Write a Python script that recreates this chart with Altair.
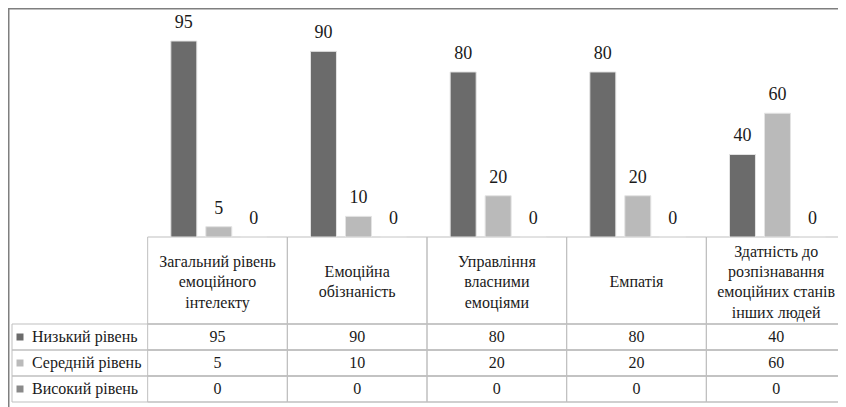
import altair as alt
import pandas as pd

# ---------------- data ----------------
categories = [
    "Загальний рівень емоційного інтелекту",
    "Емоційна обізнаність",
    "Управління власними емоціями",
    "Емпатія",
    "Здатність до розпізнавання емоційних станів інших людей",
]
header_lines = [
    ["Загальний рівень", "емоційного", "інтелекту"],
    ["Емоційна", "обізнаність"],
    ["Управління", "власними", "емоціями"],
    ["Емпатія"],
    ["Здатність до", "розпізнавання", "емоційних станів", "інших людей"],
]
series = ["Низький рівень", "Середній рівень", "Високий рівень"]
low = [95, 90, 80, 80, 40]
mid = [5, 10, 20, 20, 60]
high = [0, 0, 0, 0, 0]
colors = ["#6b6b6b", "#bababa", "#8a8a8a"]

# ---------------- layout ----------------
W, H = 830, 400
X_RANGE = 838        # table runs past the right edge, as in the original
BASE = 229           # bar baseline / header top (px inside view)
HDR_BOTTOM = 316
TABLE_BOTTOM = 394
TABLE_LEFT = 4
HDR_CENTER = 274.3
LINE_H = 20.3
FONT = "Liberation Serif"
GRID = "#bfbfbf"
FRAME = "#7f7f7f"
ROWCOL = " "

values_by_series = [low, mid, high]
long = pd.DataFrame(
    [
        {"cat": c, "series": s, "value": v[i]}
        for s, v in zip(series, values_by_series)
        for i, c in enumerate(categories)
    ]
)
hdr = pd.DataFrame({"cat": categories})
hdr_long = pd.DataFrame(
    [
        {"cat": c, "line": t, "pos": i - (len(lines) - 1) / 2}
        for c, lines in zip(categories, header_lines)
        for i, t in enumerate(lines)
    ]
)
rows = pd.DataFrame({"series": series, "col": [ROWCOL] * len(series)})

xs = alt.Scale(domain=[ROWCOL] + categories, range=[0, X_RANGE], paddingInner=0, paddingOuter=0)
xo = alt.Scale(domain=series, paddingInner=0.257, paddingOuter=0.624, align=0.53)
ys = alt.Scale(domain=[0, 100], range=[BASE, BASE - 206.3])
rs = alt.Scale(domain=series, range=[HDR_BOTTOM, TABLE_BOTTOM], paddingInner=0, paddingOuter=0)
ls = alt.Scale(domain=[-1, 1], range=[HDR_CENTER - LINE_H, HDR_CENTER + LINE_H])
cs = alt.Scale(domain=series, range=colors)

X = alt.X("cat:N", scale=xs, axis=None, sort=None)
XO = alt.XOffset("series:N", scale=xo, sort=None)
YR = alt.Y("series:N", scale=rs, axis=None, sort=None)

frame_top = alt.Chart(hdr.head(1)).mark_rule(color=FRAME, strokeWidth=2).encode(
    y=alt.value(0.5), x=alt.value(0), x2=alt.value(W)
)
frame_left = alt.Chart(hdr.head(1)).mark_rule(color=FRAME, strokeWidth=2).encode(
    x=alt.value(0.5), y=alt.value(0), y2=alt.value(H)
)

bars = alt.Chart(long).mark_bar(stroke="#e4e4e4", strokeWidth=1).encode(
    x=X,
    xOffset=XO,
    y=alt.Y("value:Q", scale=ys, axis=None),
    color=alt.Color("series:N", scale=cs, legend=None),
)

bar_labels = alt.Chart(long).mark_text(
    baseline="alphabetic", dy=-13, font=FONT, fontSize=18, color="#1a1a1a"
).encode(
    x=X,
    xOffset=XO,
    y=alt.Y("value:Q", scale=ys, axis=None),
    text=alt.Text("value:Q"),
)

hdr_cells = alt.Chart(hdr).mark_rect(fill=None, stroke=GRID, strokeWidth=1).encode(
    x=X, y=alt.value(BASE), y2=alt.value(HDR_BOTTOM)
)

data_cells = alt.Chart(long).mark_rect(fill=None, stroke=GRID, strokeWidth=1).encode(
    x=X, y=YR
)

row_tops = alt.Chart(rows).mark_rule(color=GRID, strokeWidth=1).encode(
    y=alt.Y("series:N", scale=rs, axis=None, sort=None, bandPosition=0),
    x=alt.value(TABLE_LEFT),
    x2=alt.value(W),
)
row_bottoms = alt.Chart(rows).mark_rule(color=GRID, strokeWidth=1).encode(
    y=alt.Y("series:N", scale=rs, axis=None, sort=None, bandPosition=1),
    x=alt.value(TABLE_LEFT),
    x2=alt.value(W),
)
left_border = alt.Chart(rows.head(1)).mark_rule(color=GRID, strokeWidth=1).encode(
    x=alt.value(TABLE_LEFT), y=alt.value(HDR_BOTTOM), y2=alt.value(TABLE_BOTTOM)
)

hdr_text = alt.Chart(hdr_long).mark_text(
    baseline="middle", font=FONT, fontSize=16, color="#1a1a1a"
).encode(
    x=X,
    y=alt.Y("pos:Q", scale=ls, axis=None),
    text=alt.Text("line:N"),
)

table_nums = alt.Chart(long).mark_text(
    baseline="middle", font=FONT, fontSize=16, color="#1a1a1a"
).encode(x=X, y=YR, text=alt.Text("value:Q"))

row_text = alt.Chart(rows).mark_text(
    align="left", baseline="middle", dx=24, font=FONT, fontSize=16, color="#1a1a1a"
).encode(
    x=alt.X("col:N", scale=xs, axis=None, bandPosition=0, sort=None),
    y=YR,
    text=alt.Text("series:N"),
)

row_sq = alt.Chart(rows).mark_square(size=49, xOffset=12, opacity=1).encode(
    x=alt.X("col:N", scale=xs, axis=None, bandPosition=0, sort=None),
    y=YR,
    color=alt.Color("series:N", scale=cs, legend=None),
)

chart = (
    alt.layer(
        hdr_cells, data_cells, row_tops, row_bottoms, left_border,
        bars, bar_labels, hdr_text, table_nums, row_text, row_sq,
        frame_top, frame_left,
    )
    .resolve_scale(y="independent")
    .properties(width=W, height=H, padding=0, autosize=alt.AutoSizeParams(type="none"),
                background="white")
    .configure_view(strokeWidth=0)
)

chart.save("out.html", embed_options={"renderer": "svg", "actions": False})
